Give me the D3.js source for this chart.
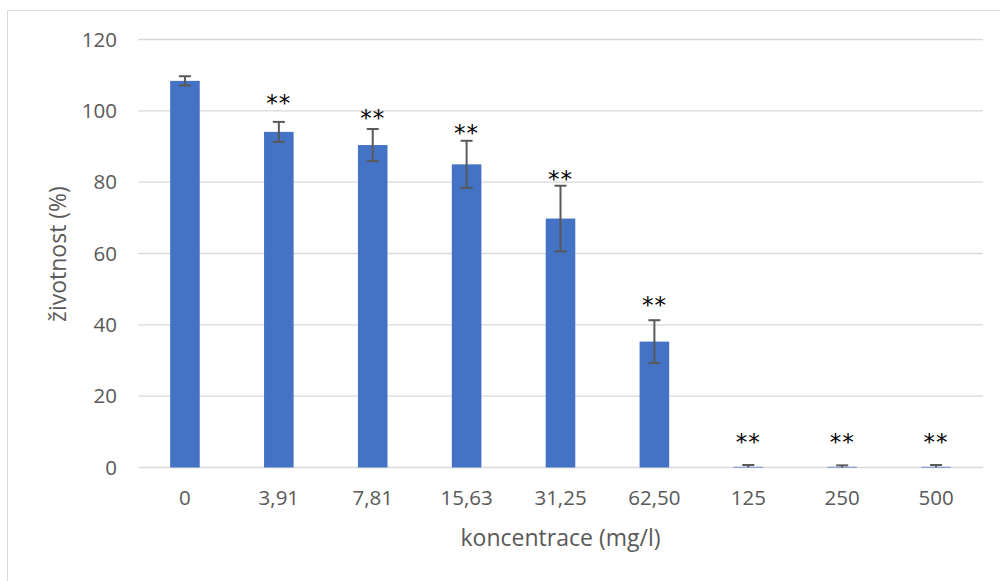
<!DOCTYPE html>
<html>
<head>
<meta charset="utf-8">
<script src="https://cdn.jsdelivr.net/npm/d3@7"></script>
<style>
  body { margin: 0; background: #fff; }
  svg text { font-family: "Open Sans", sans-serif; }
</style>
</head>
<body>
<div id="chart"></div>
<script>
// data
var categories = ["0", "3,91", "7,81", "15,63", "31,25", "62,50", "125", "250", "500"];
var viability = [108.4, 94.1, 90.4, 85.0, 69.8, 35.3, 0.2, 0.2, 0.2];
var errors = [1.3, 2.8, 4.5, 6.6, 9.2, 6.0, 0.5, 0.4, 0.5];
var stars = ["", "**", "**", "**", "**", "**", "**", "**", "**"];
var starLevel = [null, 103.8, 99.5, 95.5, 82.5, 47.2, 8.9, 8.9, 8.9];
var yTicks = [0, 20, 40, 60, 80, 100, 120];

var W = 1000, H = 581;
var margin = {top: 39.5, right: 17, bottom: 113.5, left: 138};
var width = W - margin.left - margin.right;
var height = H - margin.top - margin.bottom;

var svg = d3.select("#chart")
  .append("svg")
  .attr("width", W)
  .attr("height", H);

// chart border
svg.append("rect")
  .attr("x", 7.5).attr("y", 10.5)
  .attr("width", 1000).attr("height", 600)
  .attr("fill", "none")
  .attr("stroke", "#d9d9d9");

var g = svg.append("g")
  .attr("transform", "translate(" + margin.left + "," + margin.top + ")");

var x = d3.scaleBand()
  .domain(categories)
  .range([0, width])
  .paddingInner(0.685)
  .paddingOuter(0.3425);

var y = d3.scaleLinear()
  .domain([0, 120])
  .range([height, 0]);

// gridlines
g.selectAll(".grid")
  .data(yTicks)
  .enter()
  .append("line")
  .attr("x1", 0).attr("x2", width)
  .attr("y1", function(d) { return y(d); })
  .attr("y2", function(d) { return y(d); })
  .attr("stroke", "#d9d9d9")
  .attr("stroke-width", 1.3);

// y axis labels
var yAxis = g.append("g")
  .call(d3.axisLeft(y).tickValues(yTicks).tickSize(0).tickPadding(21));
yAxis.select(".domain").remove();
yAxis.selectAll("text")
  .attr("fill", "#595959")
  .style("font-size", "20.5px")
  .style("font-family", "'Open Sans', sans-serif");

// x axis labels
var xAxis = g.append("g")
  .attr("transform", "translate(0," + height + ")")
  .call(d3.axisBottom(x).tickSize(0).tickPadding(23));
xAxis.select(".domain").remove();
xAxis.selectAll("text")
  .attr("fill", "#595959")
  .style("font-size", "20.5px")
  .style("font-family", "'Open Sans', sans-serif");

// bars
g.selectAll(".bar")
  .data(categories)
  .enter()
  .append("rect")
  .attr("class", "bar")
  .attr("x", function(d) { return x(d); })
  .attr("width", x.bandwidth())
  .attr("y", function(d, i) { return y(viability[i]); })
  .attr("height", function(d, i) { return y(0) - y(viability[i]); })
  .attr("fill", "#4472c4");

// error bars
var cap = 6;
var eb = g.selectAll(".err")
  .data(categories)
  .enter()
  .append("g")
  .attr("class", "err")
  .attr("stroke", "#595959")
  .attr("stroke-width", 2);

eb.append("line")
  .attr("x1", function(d) { return x(d) + x.bandwidth() / 2; })
  .attr("x2", function(d) { return x(d) + x.bandwidth() / 2; })
  .attr("y1", function(d, i) { return y(viability[i] + errors[i]); })
  .attr("y2", function(d, i) { return y(Math.max(0, viability[i] - errors[i])); });

eb.append("line")
  .attr("x1", function(d) { return x(d) + x.bandwidth() / 2 - cap; })
  .attr("x2", function(d) { return x(d) + x.bandwidth() / 2 + cap; })
  .attr("y1", function(d, i) { return y(viability[i] + errors[i]); })
  .attr("y2", function(d, i) { return y(viability[i] + errors[i]); });

eb.filter(function(d, i) { return viability[i] - errors[i] > 0; })
  .append("line")
  .attr("x1", function(d) { return x(d) + x.bandwidth() / 2 - cap; })
  .attr("x2", function(d) { return x(d) + x.bandwidth() / 2 + cap; })
  .attr("y1", function(d, i) { return y(viability[i] - errors[i]); })
  .attr("y2", function(d, i) { return y(viability[i] - errors[i]); });

// significance stars
g.selectAll(".star")
  .data(categories)
  .enter()
  .append("text")
  .attr("class", "star")
  .attr("x", function(d) { return x(d) + x.bandwidth() / 2; })
  .attr("y", function(d, i) { return starLevel[i] === null ? 0 : y(starLevel[i]); })
  .attr("dy", "0.6em")
  .attr("text-anchor", "middle")
  .attr("fill", "#000")
  .style("font-family", "'DejaVu Sans', sans-serif")
  .style("font-size", "23px")
  .style("letter-spacing", "1px")
  .text(function(d, i) { return stars[i]; });

// axis titles
svg.append("text")
  .attr("x", margin.left + width / 2)
  .attr("y", 546)
  .attr("text-anchor", "middle")
  .attr("fill", "#595959")
  .style("font-size", "23px")
  .text("koncentrace (mg/l)");

svg.append("text")
  .attr("transform", "translate(66,254) rotate(-90)")
  .attr("text-anchor", "middle")
  .attr("fill", "#595959")
  .style("font-size", "23px")
  .text("životnost (%)");
</script>
</body>
</html>
